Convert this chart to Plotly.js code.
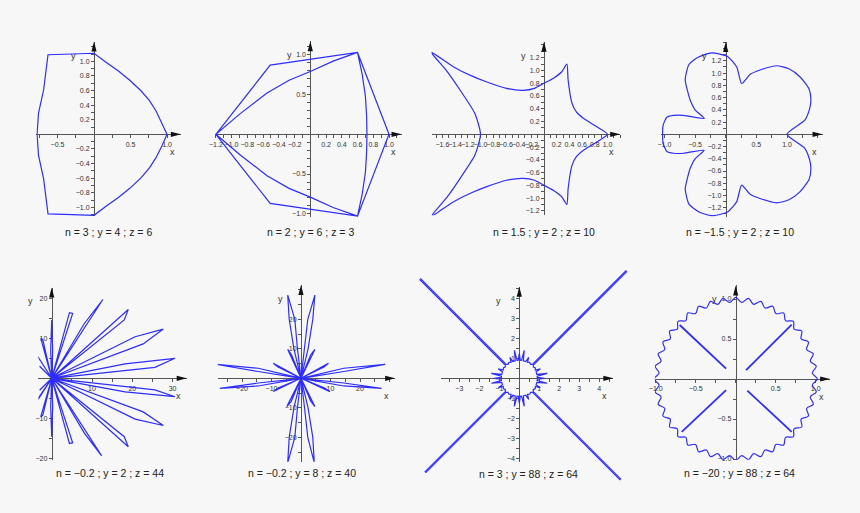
<!DOCTYPE html>
<html><head><meta charset="utf-8">
<script src="https://cdn.plot.ly/plotly-3.0.1.min.js"></script>
<style>html,body{margin:0;padding:0;background:#f7f7f7;}#chart{width:860px;height:513px;}</style>
</head><body><div id="chart"></div>
<script>
// ---------- data ----------
const captions = [
  'n = 3 ; y = 4 ; z = 6', 'n = 2 ; y = 6 ; z = 3', 'n = 1.5 ; y = 2 ; z = 10', 'n = \u22121.5 ; y = 2 ; z = 10',
  'n = \u22120.2 ; y = 2 ; z = 44', 'n = \u22120.2 ; y = 8 ; z = 40', 'n = 3 ; y = 88 ; z = 64', 'n = \u221220 ; y = 88 ; z = 64'
];

const p1X = [1.0,0.93,0.85,0.76,0.64,0.49,0.33,0.16,0.0,-0.3,-0.63,-0.66,-0.69,-0.76,-0.78,-0.76,-0.69,-0.66,-0.63,-0.3,0.0,0.16,0.33,0.49,0.64,0.76,0.85,0.93,1.0];
const p1Y = [0,0.16,0.32,0.46,0.60,0.74,0.87,0.99,1.11,1.10,1.09,0.85,0.61,0.29,0,-0.29,-0.61,-0.85,-1.09,-1.10,-1.11,-0.99,-0.87,-0.74,-0.60,-0.46,-0.32,-0.16,0];

const p2X = [-1.2,-0.51,0.6,1.0,0.6,-0.51,-1.2,-0.89,-0.55,-0.27,0,0.29,0.6,0.66,0.70,0.715,0.72,0.715,0.70,0.66,0.6,0.29,0,-0.27,-0.55,-0.89,-1.2];
const p2Y = [0,0.87,1.03,0,-1.03,-0.87,0,0.26,0.52,0.68,0.79,0.92,1.03,0.75,0.48,0.24,0,-0.24,-0.48,-0.75,-1.03,-0.92,-0.79,-0.68,-0.52,-0.26,0];

const p3X = [-1.78,-1.43,-1.15,-0.9,-0.59,-0.33,-0.15,0,0.15,0.28,0.36,0.38,0.44,0.51,0.62,0.83,1.0,0.83,0.62,0.51,0.44,0.38,0.36,0.28,0.15,0,-0.15,-0.33,-0.59,-0.9,-1.15,-1.43,-1.78,-1.53,-1.32,-1.09,-1.0,-1.09,-1.32,-1.53,-1.78];
const p3Y = [1.29,1.06,0.92,0.82,0.72,0.69,0.72,0.8,0.88,0.98,1.1,0.85,0.49,0.35,0.25,0.12,0,-0.12,-0.25,-0.35,-0.49,-0.85,-1.1,-0.98,-0.88,-0.8,-0.72,-0.69,-0.72,-0.82,-0.92,-1.06,-1.29,-0.99,-0.69,-0.33,0,0.33,0.69,0.99,1.29];

const p4X = [1.0,1.29,1.37,1.39,1.36,1.21,1.03,0.83,0.56,0.40,0.26,0.18,0.03,-0.23,-0.45,-0.60,-0.66,-0.62,-0.58,-0.50,-0.35,-0.69,-0.85,-0.96,-1.02,-1.03,
             -1.02,-0.96,-0.85,-0.69,-0.35,-0.50,-0.58,-0.62,-0.66,-0.60,-0.45,-0.23,0.03,0.18,0.26,0.40,0.56,0.83,1.03,1.21,1.36,1.39,1.37,1.29,1.0];
const p4Y = [0,0.23,0.42,0.56,0.74,0.94,1.07,1.12,1.05,0.98,0.83,1.1,1.27,1.33,1.26,1.14,0.89,0.70,0.56,0.40,0.26,0.31,0.31,0.28,0.15,0,
             -0.15,-0.28,-0.31,-0.31,-0.26,-0.40,-0.56,-0.70,-0.89,-1.14,-1.26,-1.33,-1.27,-1.1,-0.83,-0.98,-1.05,-1.12,-1.07,-0.94,-0.74,-0.56,-0.42,-0.23,0];

const p5X = [0,18.2,30.6,25.6,0, 20.7,27.7,22.7,0, 19.0,18.0,0, 8.1,12.7,0, 4.4,5.2,0, -0.25,0,0.25,0, -2.7,-2.2,0, -3.7,-3.2,0, -3.0,0, 2.5,0,
             18.2,30.6,25.6,0, 20.7,27.7,22.7,0, 19.0,18.0,0, 8.1,12.4,0, 4.4,5.2,0, -0.25,0,0.25,0, -2.7,-2.2,0, -3.7,-3.2,0, -3.0,0, 2.5,0];
const p5Y = [0,3.6,5.0,2.75,0, 10.4,12.3,8.6,0, 17.2,14.6,0, 13.7,19.7,0, 16.4,16.2,0, 7,14.6,7,0, 10.0,9.6,0, 5.8,5.3,0, 3.0,0, 1.2,0,
             -3.4,-4.6,-2.9,0, -10.2,-11.8,-8.4,0, -17.1,-14.6,0, -13.7,-19.4,0, -16.3,-16.1,0, -7,-14.6,-7,0, -9.6,-9.2,0, -5.5,-5.0,0, -3.0,0, -1.2,0];

const p6X = [0,2.4,4.0,4.7,2.3,1.2,0, -2.4,-4.0,-4.5,-2.1,-1.2,0, -2.4,-4.0,-4.5,-2.1,-1.2,0, 2.4,4.0,4.5,2.3,1.2,0,
             -4.5,-3.2,0, 4.7,3.3,0, -4.8,-3.3,0, 4.7,3.3,0,
             -14.5,-28.6,-14.5,0, 14.5,28.5,14.5,0, -14.5,-27.5,-14.5,0, 14.5,27.3,14.5,0,
             -9.4,-7.8,0, 9.3,7.8,0, -9.4,-7.8,0, 9.8,8.0,0];
const p6Y = [0,10,20,28.2,20,10,0, 10,20,28.2,20,10,0, -10,-20,-28.6,-20,-10,0, -10,-20,-28.6,-20,-10,0,
             9.8,8.0,0, 9.8,8.0,0, -9.6,-7.8,0, -9.6,-7.8,0,
             3.4,4.7,2.3,0, 3.4,4.7,2.3,0, -2.6,-3.4,-1.6,0, -2.6,-3.4,-1.6,0,
             5.1,3.8,0, 5.1,3.8,0, -4.5,-3.3,0, -4.5,-3.3,0];

const p7RingX = [1.25,0.899,0.893,1.398,0.877,0.840,1.051,0.802,0.797,0.699,0.707,0.566,0.517,0.409,0.468,0.323,0.203,0.247,0.110,0.047,0,
  -0.047,-0.110,-0.247,-0.203,-0.323,-0.468,-0.409,-0.517,-0.566,-0.707,-0.699,-0.797,-0.802,-1.051,-0.840,-0.877,-1.398,-0.893,-0.899,-1.25,
  -0.899,-0.893,-1.398,-0.877,-0.840,-1.051,-0.802,-0.797,-0.699,-0.707,-0.566,-0.517,-0.409,-0.468,-0.323,-0.203,-0.247,-0.110,-0.047,0,
  0.047,0.110,0.247,0.203,0.323,0.468,0.409,0.517,0.566,0.707,0.699,0.797,0.802,1.051,0.840,0.877,1.398,0.893,0.899,1.25];
const p7RingY = [0,0.047,0.110,0.247,0.203,0.323,0.468,0.409,0.517,0.566,0.707,0.699,0.797,0.802,1.051,0.840,0.877,1.398,0.893,0.899,1.25,
  0.899,0.893,1.398,0.877,0.840,1.051,0.802,0.797,0.699,0.707,0.566,0.517,0.409,0.468,0.323,0.203,0.247,0.110,0.047,0,
  -0.047,-0.110,-0.247,-0.203,-0.323,-0.468,-0.409,-0.517,-0.566,-0.707,-0.699,-0.797,-0.802,-1.051,-0.840,-0.877,-1.398,-0.893,-0.899,-1.25,
  -0.899,-0.893,-1.398,-0.877,-0.840,-1.051,-0.802,-0.797,-0.699,-0.707,-0.566,-0.517,-0.409,-0.468,-0.323,-0.203,-0.247,-0.110,-0.047,0];
const p7LineX = [0.73,5.39,null,0.69,5.35,null,-0.73,-4.99,null,-0.69,-4.95,null,-0.73,-4.73,null,-0.69,-4.69,null,0.73,5.09,null,0.69,5.05];
const p7LineY = [0.69,5.35,null,0.73,5.39,null,0.69,4.95,null,0.73,4.99,null,-0.69,-4.69,null,-0.73,-4.73,null,-0.69,-5.05,null,-0.73,-5.09];

const p8X = [1.02,0.957,1.007,0.933,0.970,0.887,0.909,0.818,0.825,0.730,0.721,0.623,0.600,0.502,0.463,0.367,0.315,0.224,0.160,0.075,0,
  -0.075,-0.160,-0.224,-0.315,-0.367,-0.463,-0.502,-0.600,-0.623,-0.721,-0.730,-0.825,-0.818,-0.909,-0.887,-0.970,-0.933,-1.007,-0.957,-1.02,
  -0.957,-1.007,-0.933,-0.970,-0.887,-0.909,-0.818,-0.825,-0.730,-0.721,-0.623,-0.600,-0.502,-0.463,-0.367,-0.315,-0.224,-0.160,-0.075,0,
  0.075,0.160,0.224,0.315,0.367,0.463,0.502,0.600,0.623,0.721,0.730,0.825,0.818,0.909,0.887,0.970,0.933,1.007,0.957,1.02];
const p8Y = [0,0.075,0.160,0.224,0.315,0.367,0.463,0.502,0.600,0.623,0.721,0.730,0.825,0.818,0.909,0.887,0.970,0.933,1.007,0.957,1.02,
  0.957,1.007,0.933,0.970,0.887,0.909,0.818,0.825,0.730,0.721,0.623,0.600,0.502,0.463,0.367,0.315,0.224,0.160,0.075,0,
  -0.075,-0.160,-0.224,-0.315,-0.367,-0.463,-0.502,-0.600,-0.623,-0.721,-0.730,-0.825,-0.818,-0.909,-0.887,-0.970,-0.933,-1.007,-0.957,-1.02,
  -0.957,-1.007,-0.933,-0.970,-0.887,-0.909,-0.818,-0.825,-0.730,-0.721,-0.623,-0.600,-0.502,-0.463,-0.367,-0.315,-0.224,-0.160,-0.075,0];
const p8DiagX = [-0.70,-0.12,null,0.13,0.70,null,-0.675,-0.12,null,0.145,0.70];
const p8DiagY = [0.675,0.13,null,0.11,0.68,null,-0.66,-0.14,null,-0.146,-0.66];

// tick values (labelled ticks)
const xTicks = [
  [-0.5,0.5,1.0],
  [-1.2,-1.0,-0.8,-0.6,-0.4,-0.2,0.2,0.4,0.6,0.8,1.0],
  [-1.6,-1.4,-1.2,-1.0,-0.8,-0.6,-0.4,-0.2,0.2,0.4,0.6,0.8,1.0],
  [-1.0,-0.5,0.5,1.0],
  [10,20,30],
  [-20,-10,10,20],
  [-4,-3,-2,-1,1,2,3,4],
  [-1.0,-0.5,0.5,1.0]
];
const yTicks = [
  [-1.0,-0.8,-0.6,-0.4,-0.2,0.2,0.4,0.6,0.8,1.0],
  [-1.0,-0.5,0.5,1.0],
  [-1.2,-1.0,-0.8,-0.6,-0.4,-0.2,0.2,0.4,0.6,0.8,1.0,1.2],
  [-1.2,-1.0,-0.8,-0.6,-0.4,-0.2,0.2,0.4,0.6,0.8,1.0,1.2],
  [-20,-10,10,20],
  [-20,-10,10,20],
  [-4,-3,-2,-1,1,2,3,4],
  [-1.0,-0.5,0.5,1.0]
];

// ---------- layout geometry (pixels) ----------
const W = 860, H = 513;
const FONT = 'Liberation Sans, Arial, sans-serif';
const BLUE = 'rgb(45,45,255)';
const panels = [
  {ox:94,    oy:134.3, sx:73,   sy:73,   xr:[-0.79,1.19],  yr:[-1.12,1.27], xm:0.25, ym:0.1,  fmt:'.1f'},
  {ox:310.3, oy:134.3, sx:78.7, sy:79.5, xr:[-1.21,1.16],  yr:[-1.04,1.17], xm:0.1,  ym:0.1,  fmt:'.1f'},
  {ox:544,   oy:134.3, sx:63.5, sy:63.8, xr:[-1.77,1.2],   yr:[-1.27,1.45], xm:0.1,  ym:0.1,  fmt:'.1f'},
  {ox:725.7, oy:134.3, sx:61.3, sy:61.2, xr:[-1.06,1.58],  yr:[-1.35,1.51], xm:0.25, ym:0.1,  fmt:'.1f'},
  {ox:51.7,  oy:378.3, sx:4.03, sy:4.0,  xr:[-3.3,33.5],   yr:[-20.4,22.7], xm:5,    ym:5,    fmt:'d'},
  {ox:301,   oy:378.3, sx:2.95, sy:2.95, xr:[-28.2,31.9],  yr:[-28.3,31.6], xm:5,    ym:5,    fmt:'d'},
  {ox:519.3, oy:378.3, sx:20,   sy:20,   xr:[-3.93,4.7],   yr:[-4.2,4.58],  xm:0.5,  ym:0.5,  fmt:'d'},
  {ox:735.7, oy:379,   sx:80,   sy:80,   xr:[-1.01,1.18],  yr:[-1.01,1.17], xm:0.25, ym:0.25, fmt:'.1f'}
];
const captionPos = [[108.3,232.3],[310,231.7],[544,231.7],[740,232.3],[110,473.3],[301.7,473.3],[528.5,474.3],[739.5,472.7]];

const layout = {
  width: W, height: H, margin:{l:0,r:0,t:0,b:0},
  paper_bgcolor:'#f7f7f7', plot_bgcolor:'rgba(0,0,0,0)',
  showlegend:false, annotations:[], shapes:[],
  font:{family:FONT, color:'#222'}
};

function dom(o, r, s, flip){
  if(!flip) return [(o + r[0]*s)/W, (o + r[1]*s)/W];
  return [(H - (o - r[0]*s))/H, (H - (o - r[1]*s))/H];
}

panels.forEach((p,i)=>{
  const sfx = i===0 ? '' : String(i+1);
  const common = {showgrid:false, zeroline:false, showline:true, linecolor:'#555', linewidth:1,
    ticks:'outside', ticklen:3, tickwidth:1, tickcolor:'#555', tickangle:0,
    tickfont:{family:FONT, size:7, color:'#333'}, tickmode:'array', tickformat:p.fmt,
    layer:'below traces', fixedrange:true, anchor:'free'};
  layout['xaxis'+sfx] = Object.assign({}, common, {
    domain: dom(p.ox, p.xr, p.sx, false), range: p.xr, position: (H - p.oy)/H, tickvals: xTicks[i],
    minor:{tickmode:'linear', tick0:0, dtick:p.xm, ticks:'outside', ticklen:3, tickwidth:1, tickcolor:'#555', showgrid:false}
  });
  layout['yaxis'+sfx] = Object.assign({}, common, {
    domain: dom(p.oy, p.yr, p.sy, true), range: p.yr, position: p.ox/W, tickvals: yTicks[i],
    minor:{tickmode:'linear', tick0:0, dtick:p.ym, ticks:'outside', ticklen:3, tickwidth:1, tickcolor:'#555', showgrid:false}
  });
  const xa = 'x'+sfx, ya = 'y'+sfx;
  // arrowheads
  layout.shapes.push({type:'path', xref:xa+' domain', yref:ya, xsizemode:'pixel', ysizemode:'pixel',
    xanchor:1, yanchor:0, path:'M0,0L-10,2.6L-10,-2.6Z', fillcolor:'#111', line:{width:0}});
  layout.shapes.push({type:'path', xref:xa, yref:ya+' domain', xsizemode:'pixel', ysizemode:'pixel',
    xanchor:0, yanchor:1, path:'M0,0L-2.6,-10L2.6,-10Z', fillcolor:'#111', line:{width:0}});
  // axis names
  layout.annotations.push({xref:xa+' domain', yref:ya, x:1, y:0, xshift:-4, yshift:-18, text:'x',
    showarrow:false, font:{size:9, color:'#333'}});
  layout.annotations.push({xref:xa, yref:ya+' domain', x:0, y:1, xshift:-21, yshift:-7, text:'y',
    showarrow:false, font:{size:9, color:'#333'}});
  // caption
  layout.annotations.push({xref:'paper', yref:'paper', x:captionPos[i][0]/W, y:(H-captionPos[i][1])/H,
    text:captions[i], showarrow:false, xanchor:'center', yanchor:'middle', font:{size:10.5, color:'#222'}});
});

// hidden overflow axes for the long diagonals of panel 7
const p7 = panels[6], bigR = [-5.2,5.6];
layout.xaxis9 = {domain: dom(p7.ox, bigR, p7.sx, false), range: bigR, visible:false, anchor:'y9', fixedrange:true};
layout.yaxis9 = {domain: dom(p7.oy, bigR, p7.sy, true), range: bigR, visible:false, anchor:'x9', fixedrange:true};

const ln = {color:BLUE, width:1.2};
const data = [
  {x:p1X, y:p1Y, xaxis:'x',  yaxis:'y',  mode:'lines', line:ln},
  {x:p2X, y:p2Y, xaxis:'x2', yaxis:'y2', mode:'lines', line:ln},
  {x:p3X, y:p3Y, xaxis:'x3', yaxis:'y3', mode:'lines', line:Object.assign({shape:'spline', smoothing:0.6}, ln)},
  {x:p4X, y:p4Y, xaxis:'x4', yaxis:'y4', mode:'lines', line:Object.assign({shape:'spline', smoothing:0.6}, ln)},
  {x:p5X, y:p5Y, xaxis:'x5', yaxis:'y5', mode:'lines', line:ln},
  {x:p6X, y:p6Y, xaxis:'x6', yaxis:'y6', mode:'lines', line:ln},
  {x:p7RingX, y:p7RingY, xaxis:'x7', yaxis:'y7', mode:'lines', line:ln},
  {x:p7LineX, y:p7LineY, xaxis:'x9', yaxis:'y9', mode:'lines', line:{color:BLUE, width:1.2}},
  {x:p8X, y:p8Y, xaxis:'x8', yaxis:'y8', mode:'lines', line:Object.assign({shape:'spline', smoothing:1}, ln)},
  {x:p8DiagX, y:p8DiagY, xaxis:'x8', yaxis:'y8', mode:'lines', line:{color:BLUE, width:1.8}}
];

Plotly.newPlot('chart', data, layout, {staticPlot:true, displayModeBar:false});
</script>
</body></html>
